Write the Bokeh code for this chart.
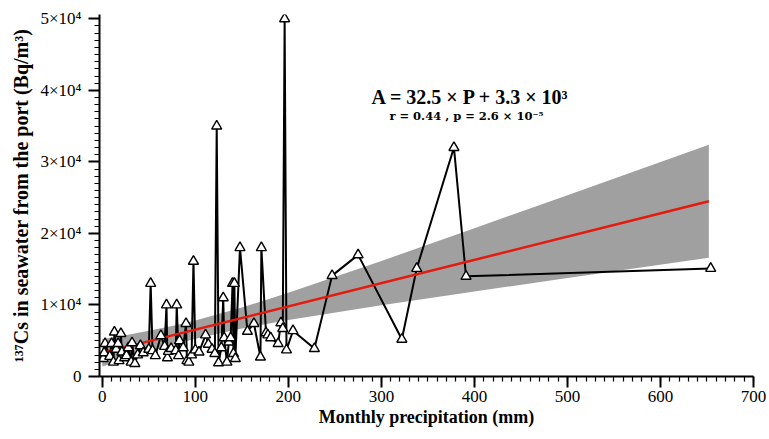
from bokeh.plotting import figure
from bokeh.models import Label, FixedTicker, Range1d
from bokeh.embed import file_html
from bokeh.resources import INLINE

precip = [1, 2, 3, 8, 10, 12, 13, 15, 17, 18, 20, 21, 24, 26, 28, 31, 32, 35, 38, 41,
          44, 50, 52, 54, 57, 63, 67, 69, 70, 71, 74, 79, 80, 82, 83, 87, 90, 91, 93, 96,
          98, 100, 104, 111, 114, 118, 121, 123, 125, 128, 130, 131, 134, 136, 138, 140, 141, 142, 143, 148,
          156, 163, 170, 171, 176, 178, 181, 189, 192, 194, 196, 198, 205, 228, 247, 275, 322, 338, 378, 391,
          654]
cs137 = [2500, 3300, 4600, 2800, 4600, 2000, 6200, 3800, 4600, 2200, 6000, 3400, 2600, 2900, 4000, 2000, 4700, 1800, 3000, 4300,
         3300, 3800, 13000, 3600, 2900, 5700, 4200, 10000, 2600, 3500, 3900, 3600, 10000, 2900, 5000, 4000, 7400, 2200, 2000, 3000,
         16100, 3700, 3400, 5800, 4500, 3800, 3200, 35000, 1900, 4000, 11000, 5400, 2000, 4800, 5400, 13000, 3200, 13000, 2500, 18000,
         6300, 7400, 2700, 18000, 6100, 5800, 5400, 4600, 7500, 6700, 50000, 3700, 6400, 3900, 14100, 17000, 5200, 15100, 32000, 14000,
         15100]

# Regression line A = 32.5 x P + 3.3 x 10^3 and its confidence band
fit_x = [0, 652]
fit_y = [3300, 24490]
band_x = [0, 25, 50, 75, 100, 150, 200, 300, 400, 500, 652]
band_lo = [1400, 2450, 3460, 4410, 5270, 6710, 7900, 9950, 11880, 13760, 16590]
band_hi = [5200, 5770, 6390, 7070, 7830, 9640, 11700, 16150, 20720, 25340, 32390]

x_ticks = [0, 100, 200, 300, 400, 500, 600, 700]
y_ticks = [0, 10000, 20000, 30000, 40000, 50000]
y_tick_labels = ["0", "1×10⁴", "2×10⁴", "3×10⁴", "4×10⁴", "5×10⁴"]

SERIF = "Liberation Serif"

p = figure(width=769, height=439, output_backend="svg", toolbar_location=None,
           x_range=Range1d(-3, 700), y_range=Range1d(0, 50600),
           min_border_left=99, min_border_right=16, min_border_top=14, min_border_bottom=63)
p.outline_line_color = None
p.grid.visible = False
p.background_fill_color = "white"

p.varea(x=band_x, y1=band_lo, y2=band_hi, fill_color="#a0a0a0", fill_alpha=1.0)
p.line(precip, cs137, line_color="black", line_width=2)
p.line(fit_x, fit_y, line_color="#e41a0c", line_width=2.5)
p.scatter(precip, cs137, marker="triangle", size=10, fill_color="white",
          line_color="black", line_width=1.4)

for ax in (p.xaxis[0], p.yaxis[0]):
    ax.axis_line_width = 2
    ax.axis_line_color = "black"
    ax.major_tick_line_width = 2
    ax.minor_tick_line_width = 1.2
    ax.major_tick_out = 11
    ax.major_tick_in = 0
    ax.minor_tick_out = 5
    ax.minor_tick_in = 0
    ax.major_label_text_font = SERIF
    ax.major_label_text_font_size = "17px"
    ax.major_label_text_color = "black"
    ax.axis_label_text_font = SERIF
    ax.axis_label_text_font_style = "bold"
    ax.axis_label_text_color = "black"

p.xaxis.ticker = FixedTicker(ticks=x_ticks, minor_ticks=list(range(0, 701, 10)))
p.yaxis.ticker = FixedTicker(ticks=y_ticks, minor_ticks=list(range(0, 50001, 1000)))
p.yaxis.major_label_overrides = {t: l for t, l in zip(y_ticks, y_tick_labels)}
p.xaxis.axis_label = "Monthly precipitation (mm)"
p.yaxis.axis_label = "¹³⁷Cs in seawater from the port (Bq/m³)"
p.xaxis.axis_label_text_font_size = "18px"
p.yaxis.axis_label_text_font_size = "20px"
p.xaxis.major_label_standoff = 3
p.xaxis.axis_label_standoff = 2
p.yaxis.major_label_standoff = 7
p.yaxis.axis_label_standoff = 5

p.add_layout(Label(x=396, y=39100, text="A = 32.5 × P + 3.3 × 10³",
                   text_font=SERIF, text_font_style="bold", text_font_size="20px",
                   text_align="center", text_baseline="alphabetic", text_color="black"))
p.add_layout(Label(x=391.5, y=36450, text="r = 0.44 , p = 2.6 × 10⁻⁵",
                   text_font="DejaVu Serif", text_font_style="bold", text_font_size="11.5px",
                   text_align="center", text_baseline="alphabetic", text_color="black"))

open("out.html", "w").write(file_html(p, INLINE))
